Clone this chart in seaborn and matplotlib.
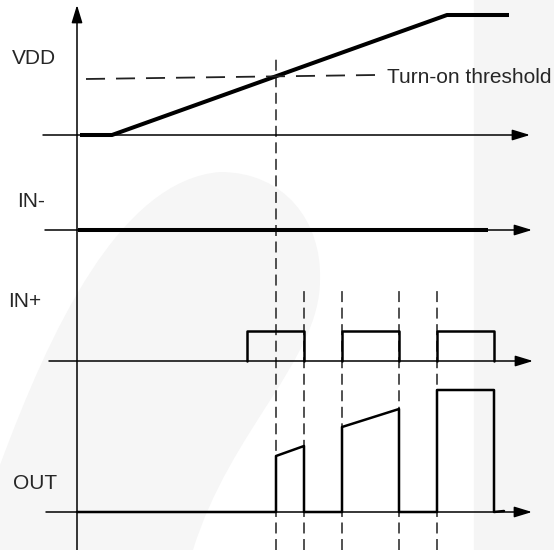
import numpy as np
import pandas as pd
import matplotlib
matplotlib.use("Agg")
import matplotlib.pyplot as plt
import matplotlib.transforms as mtransforms
from matplotlib.path import Path
from matplotlib.patches import PathPatch, Rectangle
import seaborn as sns

# Lanes of the timing diagram (baseline level of each trace, y points up)
lanes = ["VDD", "IN-", "IN+", "OUT"]
lane_base = [415, 320, 189, 38]
lane_label_t = [-65, -60, -69, -64]
lane_label_y = [486, 343, 243, 61]
axis_start = [-34, -32, -28, -31]
axis_end = [453, 455, 456, 455]

# Traces: time and level above the lane baseline
vdd_t = [3, 35, 370, 432]
vdd_v = [0, 0, 120, 120]
thr_t = [298, 9]
thr_v = [60, 56]
thr_label = "Turn-on threshold"
inm_t = [1, 411]
inm_v = [0, 0]
inp_t = [170, 170, 227, 227, 265, 265, 322, 322, 360, 360, 417, 417]
inp_v = [0, 30, 30, 0, 0, 30, 30, 0, 0, 30, 30, 0]
inp_pulse = [1, 1, 1, 1, 2, 2, 2, 2, 3, 3, 3, 3]
out_t = [0, 199, 199, 227, 227, 265, 265, 322, 322, 360, 360, 417, 417, 427]
out_v = [0, 0, 56, 66, 0, 0, 85, 103, 0, 0, 122, 122, 0, 1]

# Timing markers (dashed verticals)
mark_t = [199, 227, 265, 322, 360]
mark_top = [492, 264, 264, 264, 264]

sns.set_style("white")
plt.rcParams["font.family"] = ["Liberation Sans", "DejaVu Sans"]
plt.rcParams["lines.scale_dashes"] = False

fig = plt.figure(figsize=(5.54, 5.50), dpi=100)
fig.patch.set_facecolor("white")

# faint background decoration (in pixel coords of the figure)
px = mtransforms.Affine2D().scale(1 / 554, -1 / 550).translate(0, 1) + fig.transFigure
fig.add_artist(Rectangle((474, 0), 80, 550, transform=px, color="#f5f5f5", zorder=-2))
verts = [(0, 465), (50, 330), (120, 180), (220, 172),
         (285, 172), (322, 222), (320, 280),
         (320, 360), (230, 430), (193, 550),
         (0, 550), (0, 465)]
codes = [Path.MOVETO] + [Path.CURVE4] * 9 + [Path.LINETO, Path.CLOSEPOLY]
fig.add_artist(PathPatch(Path(verts, codes), transform=px, color="#f6f6f6", lw=0, zorder=-2))

ax = fig.add_axes([0, 0, 1, 1])
ax.set_xlim(-77, 477)
ax.set_ylim(0, 550)
ax.axis("off")

arrow = dict(arrowstyle="-|>,head_length=1.08,head_width=0.33", color="k", lw=1.1,
             shrinkA=0, shrinkB=0, mutation_scale=10)

# main vertical axis
ax.annotate("", xy=(0, 545), xytext=(0, 0), arrowprops=arrow)

# lane axes and labels
for name, base, lt, ly, a0, a1 in zip(lanes, lane_base, lane_label_t, lane_label_y, axis_start, axis_end):
    ax.annotate("", xy=(a1, base), xytext=(a0, base), arrowprops=arrow)
    ax.text(lt, ly, name, fontsize=15, ha="left", va="baseline")

# dashed timing markers
marks = pd.DataFrame({
    "t": np.repeat(mark_t, 2),
    "y": np.ravel([[0, top] for top in mark_top]),
    "m": np.repeat(range(len(mark_t)), 2),
})
sns.lineplot(data=marks, x="t", y="y", units="m", estimator=None, sort=False, ax=ax,
             color="#333333", lw=1.2, linestyle=(0, (7.9, 4.0)), legend=False)

# VDD ramp and turn-on threshold
b = lane_base[0]
sns.lineplot(x=vdd_t, y=np.array(vdd_v) + b, estimator=None, sort=False, ax=ax,
             color="k", lw=2.9, solid_capstyle="butt")
sns.lineplot(x=thr_t, y=np.array(thr_v) + b, estimator=None, sort=False, ax=ax,
             color="#222222", lw=1.3, linestyle=(0, (13.7, 7.9)))
ax.text(310, 467 - 415 + b, thr_label, fontsize=15, ha="left", va="baseline")

# IN- steady level
sns.lineplot(x=inm_t, y=np.array(inm_v) + lane_base[1], estimator=None, sort=False, ax=ax,
             color="k", lw=2.9, solid_capstyle="butt")

# IN+ pulses
inp = pd.DataFrame({"t": inp_t, "v": np.array(inp_v) + lane_base[2], "p": inp_pulse})
sns.lineplot(data=inp, x="t", y="v", units="p", estimator=None, sort=False, ax=ax,
             color="k", lw=1.8, legend=False)

# OUT response
sns.lineplot(x=out_t, y=np.array(out_v) + lane_base[3], estimator=None, sort=False, ax=ax,
             color="k", lw=1.8)

ax.set_xlim(-77, 477)
ax.set_ylim(0, 550)
fig.savefig("out.png", dpi=100)
